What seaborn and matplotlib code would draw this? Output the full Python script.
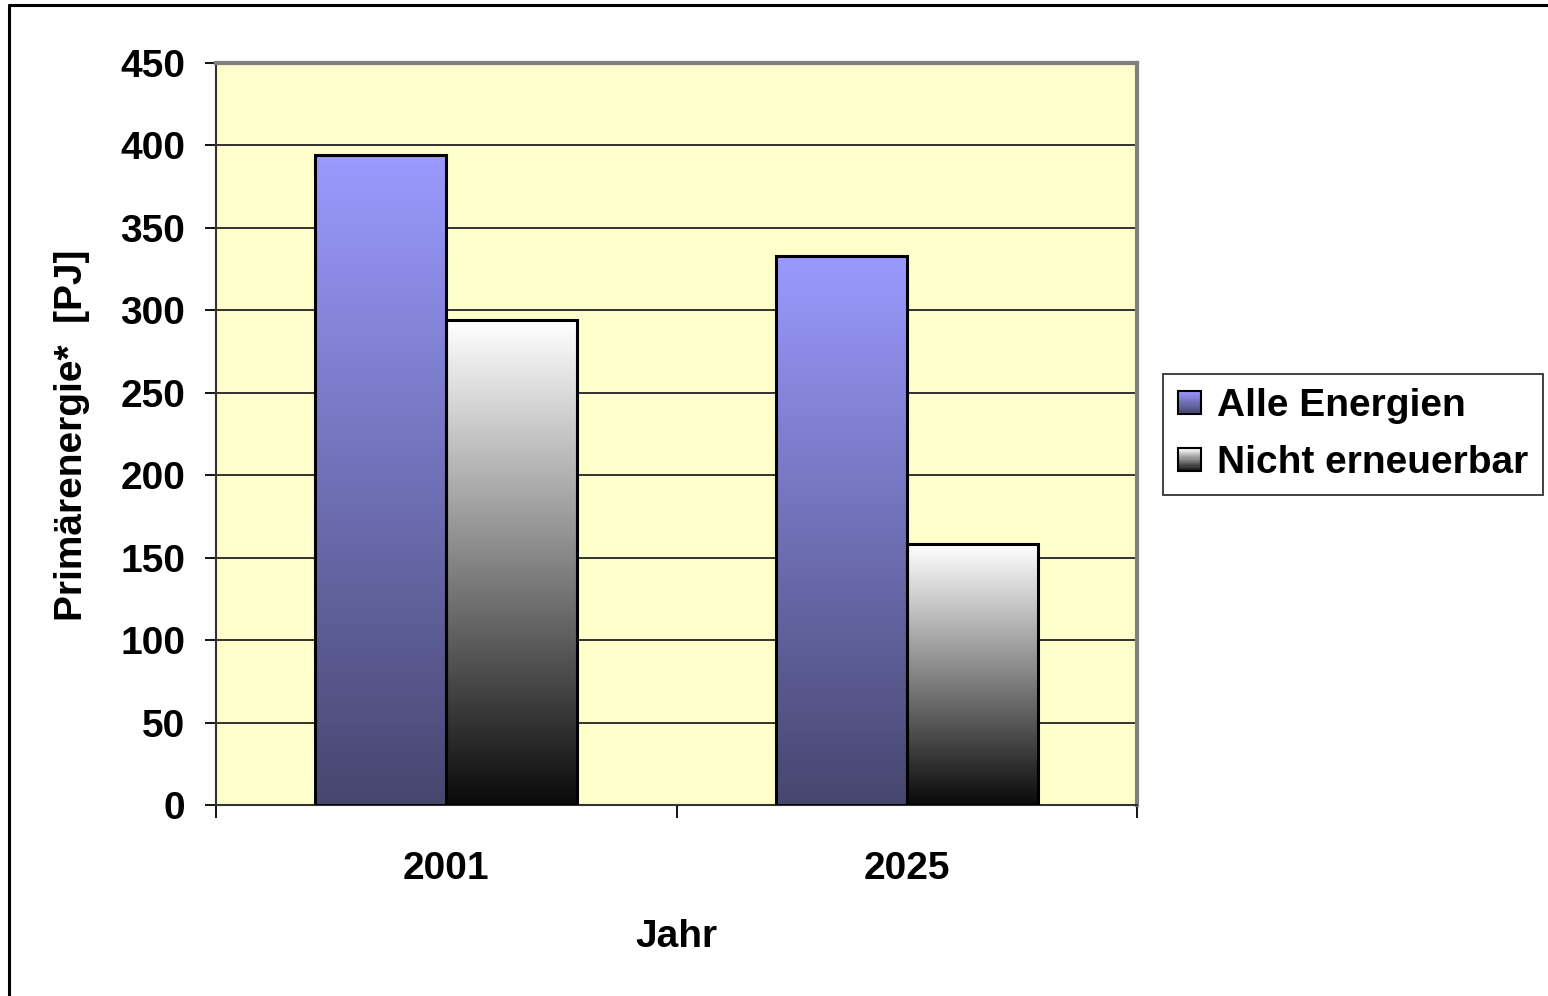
import numpy as np
import pandas as pd
import matplotlib
matplotlib.use("Agg")
import matplotlib.pyplot as plt
import seaborn as sns
from matplotlib.patches import Rectangle
from matplotlib.legend_handler import HandlerPatch
from matplotlib.colors import LinearSegmentedColormap

# Data
years = ["2001", "2025"]
series = ["Alle Energien", "Nicht erneuerbar"]
alle_energien = [394, 333]
nicht_erneuerbar = [294, 158]
y_ticks = [0, 50, 100, 150, 200, 250, 300, 350, 400, 450]

df = pd.DataFrame({
    "Jahr": years * 2,
    "Serie": [series[0]] * len(years) + [series[1]] * len(years),
    "Wert": alle_energien + nicht_erneuerbar,
})

sns.set_theme(style="white")
plt.rcParams["font.family"] = ["Liberation Sans", "DejaVu Sans"]
plt.rcParams["font.weight"] = "bold"
for key in ["text.color", "axes.labelcolor", "xtick.color", "ytick.color"]:
    plt.rcParams[key] = "black"

# Vertical gradients: top colour -> bottom colour
grad_colors = {
    series[0]: ("#9a9aff", "#46466f"),
    series[1]: ("#ffffff", "#0a0a0a"),
}
cmaps = {k: LinearSegmentedColormap.from_list(k, [v[1], v[0]]) for k, v in grad_colors.items()}

fig = plt.figure(figsize=(15.48, 9.96), dpi=100)
fig.patch.set_facecolor("white")
ax = fig.add_axes([216 / 1548, 1 - 805 / 996, (1137 - 216) / 1548, (805 - 63) / 996])
ax.set_facecolor("#ffffcc")

sns.barplot(data=df, x="Jahr", y="Wert", hue="Serie", order=years, hue_order=series,
            width=0.57, palette=["#9a9aff", "#ffffff"], edgecolor="black", linewidth=2.2,
            legend=False, ax=ax, zorder=3)

ax.set_xlim(-0.5, 1.5)
ax.set_ylim(0, 450)

# Replace solid fills with vertical gradients clipped to each bar
grad = np.linspace(0, 1, 256).reshape(-1, 1)
for i, patch in enumerate(ax.patches):
    name = series[i // len(years)]
    x0, y0 = patch.get_x(), patch.get_y()
    w, h = patch.get_width(), patch.get_height()
    ax.imshow(grad, cmap=cmaps[name], origin="lower", aspect="auto",
              extent=[x0, x0 + w, y0, y0 + h], zorder=2.5, interpolation="bilinear")
    patch.set_facecolor("none")
ax.set_xlim(-0.5, 1.5)
ax.set_ylim(0, 450)
ax.set_aspect("auto")

# Grid and frame
ax.set_yticks(y_ticks)
ax.yaxis.grid(True, color="#222222", linewidth=1.3, zorder=1)
ax.set_axisbelow(True)
for side in ["top", "right"]:
    ax.spines[side].set_color("#808080")
    ax.spines[side].set_linewidth(3)
ax.spines["left"].set_color("#333333")
ax.spines["left"].set_linewidth(1.5)
ax.spines["bottom"].set_color("#333333")
ax.spines["bottom"].set_linewidth(1.5)

ax.tick_params(axis="y", which="major", direction="out", length=8, width=1.3,
               color="black", pad=14, labelsize=28, left=True, labelcolor="black")
ax.set_xticks([0, 1])
ax.set_xticklabels(years)
ax.set_xticks([-0.5, 0.5, 1.5], minor=True)
ax.tick_params(axis="x", which="major", length=0, pad=33, labelsize=28, labelcolor="black")
ax.tick_params(axis="x", which="minor", direction="out", length=9, width=1.3,
               color="black", bottom=True)
for lbl in ax.get_xticklabels() + ax.get_yticklabels():
    lbl.set_fontweight("bold")

ax.set_xlabel("")
ax.set_ylabel("")
fig.text(676 / 1548, 1 - 937 / 996, "Jahr", ha="center", va="center",
         fontsize=28, fontweight="bold", color="black")
fig.text(72 / 1548, 1 - 435 / 996, "Primärenergie*  [PJ]", ha="center", va="center",
         rotation=90, fontsize=28, fontweight="bold", color="black")


# Legend keys drawn with the same gradients
class GradientHandler(HandlerPatch):
    def __init__(self, cmap, **kw):
        super().__init__(**kw)
        self.cmap = cmap

    def create_artists(self, legend, orig_handle, xdescent, ydescent, width, height,
                       fontsize, trans):
        size = min(width, height) * 0.95
        x0 = -xdescent + (width - size) / 2
        y0 = -ydescent + (height - size) / 2
        artists = []
        n = 20
        for k in range(n):
            c = self.cmap((k + 0.5) / n)
            artists.append(Rectangle((x0, y0 + k * size / n), size, size / n + 0.3,
                                     facecolor=c, edgecolor="none", transform=trans))
        artists.append(Rectangle((x0, y0), size, size, facecolor="none",
                                 edgecolor="black", linewidth=1.5, transform=trans))
        return artists


handles = [Rectangle((0, 0), 1, 1, label=s) for s in series]
leg = fig.legend(handles=handles, labels=series,
                 handler_map={handles[0]: GradientHandler(cmaps[series[0]]),
                              handles[1]: GradientHandler(cmaps[series[1]])},
                 loc="upper left", bbox_to_anchor=(1163 / 1548, 1 - 374 / 996),
                 fontsize=28, frameon=True, fancybox=False, borderpad=0.36,
                 handlelength=0.62, handleheight=0.62, handletextpad=0.42,
                 labelspacing=0.55, borderaxespad=0)
leg.get_frame().set_edgecolor("black")
leg.get_frame().set_linewidth(1.3)
for t in leg.get_texts():
    t.set_fontweight("bold")
    t.set_color("black")

# Outer chart frame (open towards the right and bottom edges)
fig.add_artist(plt.Line2D([9 / 1548, 9 / 1548], [0, 1 - 5 / 996],
                          transform=fig.transFigure, color="black", linewidth=2.2))
fig.add_artist(plt.Line2D([9 / 1548, 1], [1 - 5 / 996, 1 - 5 / 996],
                          transform=fig.transFigure, color="black", linewidth=2.2))

fig.savefig("out.png", dpi=100, facecolor="white")
